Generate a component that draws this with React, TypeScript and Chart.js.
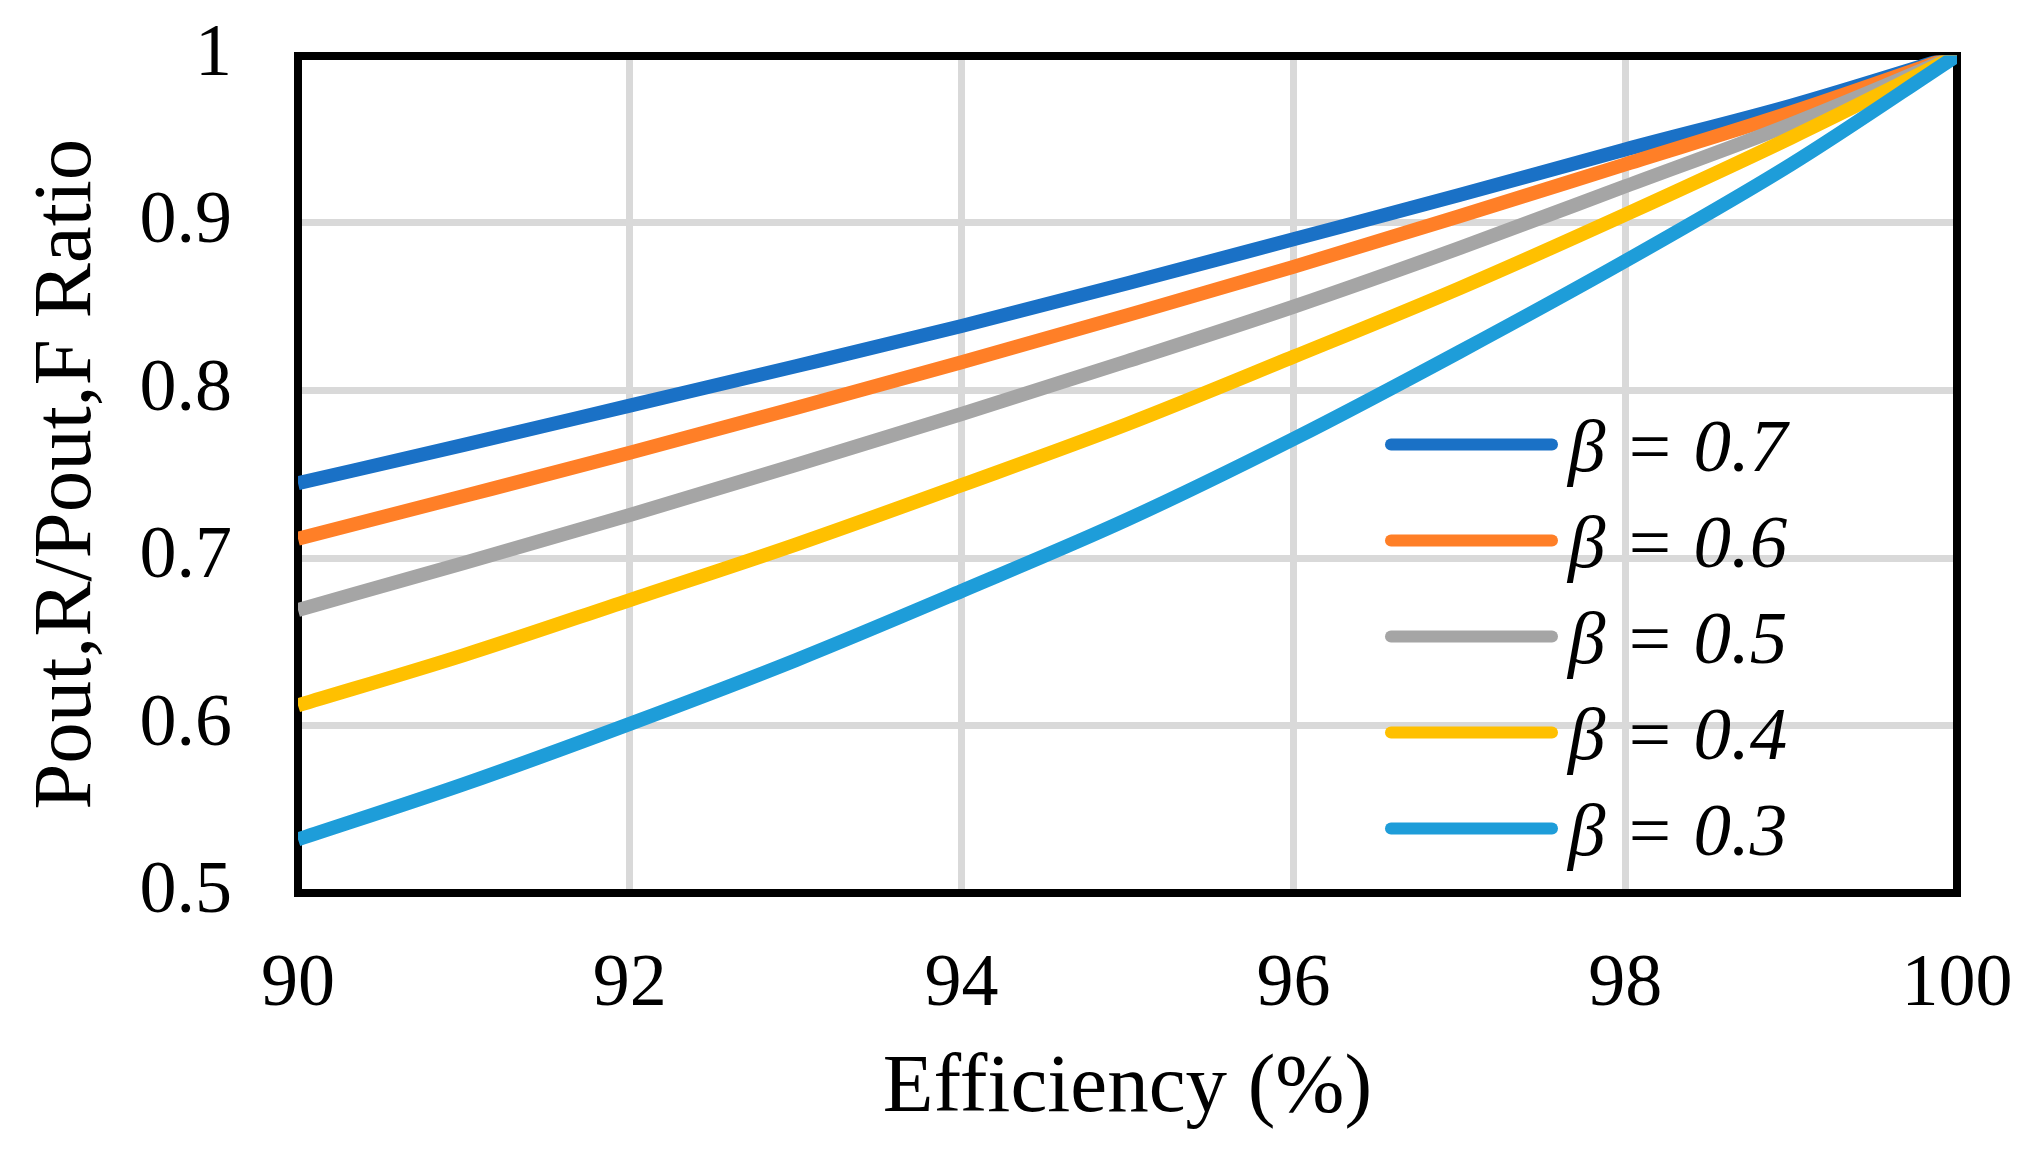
import React, { useEffect, useRef } from 'react';
import Chart from 'chart.js/auto';

// values
const efficiency = [90, 91, 92, 93, 94, 95, 96, 97, 98, 99, 100];
const beta07 = [0.7446, 0.7675, 0.791, 0.8145, 0.8385, 0.864, 0.8903, 0.9167, 0.9439, 0.97, 1.0];
const beta06 = [0.7115, 0.737, 0.7628, 0.7895, 0.8168, 0.845, 0.8738, 0.904, 0.935, 0.966, 1.0];
const beta05 = [0.669, 0.697, 0.7257, 0.7555, 0.786, 0.8175, 0.85, 0.885, 0.9219, 0.959, 1.0];
const beta04 = [0.612, 0.642, 0.6749, 0.708, 0.7435, 0.78, 0.8201, 0.861, 0.905, 0.951, 1.0];
const beta03 = [0.532, 0.565, 0.601, 0.639, 0.6803, 0.723, 0.771, 0.823, 0.8773, 0.935, 1.0];

const seriesLabels = ['β = 0.7', 'β = 0.6', 'β = 0.5', 'β = 0.4', 'β = 0.3'];
const seriesValues = [beta07, beta06, beta05, beta04, beta03];
const seriesColors = ['#1A71C6', '#FF7F27', '#A5A5A5', '#FFC000', '#1E9DD9'];

const xTicks = [90, 92, 94, 96, 98, 100];
const xTickLabels = ['90', '92', '94', '96', '98', '100'];
const yTicks = [0.5, 0.6, 0.7, 0.8, 0.9, 1];
const yTickLabels = ['0.5', '0.6', '0.7', '0.8', '0.9', '1'];

const serif = '"Liberation Serif", "Times New Roman", serif';

// legend drawn inside the plot area, right side
const insideLegend = {
    id: 'insideLegend',
    afterDatasetsDraw(chart: any) {
        const { ctx, chartArea } = chart;
        ctx.save();
        chart.data.datasets.forEach((ds: any, i: number) => {
            const y = chartArea.top + 389 + i * 96;
            const x0 = chartArea.right - 566;
            ctx.strokeStyle = ds.borderColor;
            ctx.lineWidth = 12;
            ctx.lineCap = 'round';
            ctx.beginPath();
            ctx.moveTo(x0, y);
            ctx.lineTo(x0 + 161, y);
            ctx.stroke();
            ctx.fillStyle = '#000';
            ctx.font = 'italic 75px ' + serif;
            ctx.textBaseline = 'alphabetic';
            ctx.textAlign = 'left';
            ctx.fillText(ds.label, chartArea.right - 389, y + 26);
        });
        ctx.restore();
    }
};

export default function App() {
    const canvasRef = useRef<HTMLCanvasElement>(null);

    useEffect(() => {
        document.body.style.margin = '0';
        let chart: Chart | undefined;
        const ctx = canvasRef.current?.getContext('2d');
        if (ctx) {
            chart = new Chart(ctx, {
                type: 'line',
                data: {
                    datasets: seriesValues.map((vals, i) => ({
                        label: seriesLabels[i],
                        data: vals.map((v, j) => ({ x: efficiency[j], y: v })),
                        borderColor: seriesColors[i],
                        backgroundColor: seriesColors[i],
                        borderWidth: 14,
                        pointRadius: 0,
                        cubicInterpolationMode: 'monotone',
                        fill: false,
                        order: seriesValues.length - 1 - i
                    }))
                },
                options: {
                    animation: false,
                    responsive: true,
                    maintainAspectRatio: false,
                    layout: { padding: 0 },
                    plugins: {
                        legend: { display: false },
                        tooltip: { enabled: false }
                    },
                    scales: {
                        x: {
                            type: 'linear',
                            position: 'bottom',
                            min: 90,
                            max: 100,
                            afterBuildTicks: (scale: any) => {
                                scale.ticks = xTicks.map(v => ({ value: v }));
                            },
                            afterFit: (scale: any) => {
                                scale.height = 260;
                                scale.paddingLeft = 0;
                                scale.paddingRight = 0;
                            },
                            ticks: {
                                callback: (_v: any, i: number) => xTickLabels[i],
                                font: { family: serif, size: 74 },
                                color: '#000',
                                padding: 48,
                                maxRotation: 0
                            },
                            grid: { color: '#D9D9D9', lineWidth: 7, drawTicks: false },
                            border: { display: true, color: '#000', width: 8 },
                            title: {
                                display: true,
                                text: 'Efficiency (%)',
                                color: '#000',
                                font: { family: serif, size: 83, lineHeight: 1 },
                                padding: { top: 0, bottom: 22 }
                            }
                        },
                        y: {
                            type: 'linear',
                            position: 'left',
                            min: 0.5,
                            max: 1,
                            afterBuildTicks: (scale: any) => {
                                scale.ticks = yTicks.map(v => ({ value: v }));
                            },
                            afterFit: (scale: any) => {
                                scale.width = 298;
                                scale.paddingTop = 0;
                                scale.paddingBottom = 0;
                            },
                            ticks: {
                                callback: (_v: any, i: number) => yTickLabels[i],
                                font: { family: serif, size: 74 },
                                color: '#000',
                                padding: 66
                            },
                            grid: { color: '#D9D9D9', lineWidth: 7, drawTicks: false },
                            border: { display: true, color: '#000', width: 8 },
                            title: {
                                display: true,
                                text: 'Pout,R/Pout,F Ratio',
                                color: '#000',
                                font: { family: serif, size: 83, lineHeight: 1 },
                                padding: { top: 26.5, bottom: 0 }
                            }
                        },
                        x2: {
                            type: 'linear',
                            position: 'top',
                            min: 90,
                            max: 100,
                            afterFit: (scale: any) => {
                                scale.height = 55.5;
                            },
                            ticks: { display: false },
                            grid: { display: false, drawTicks: false },
                            border: { display: true, color: '#000', width: 8 }
                        },
                        y2: {
                            type: 'linear',
                            position: 'right',
                            min: 0.5,
                            max: 1,
                            afterFit: (scale: any) => {
                                scale.width = 84;
                            },
                            ticks: { display: false },
                            grid: { display: false, drawTicks: false },
                            border: { display: true, color: '#000', width: 8 }
                        }
                    }
                },
                plugins: [insideLegend]
            });
        }
        return () => {
            if (chart) {
                chart.destroy();
            }
        };
    }, []);

    return (
        <div style={{ position: 'relative', width: '2041px', height: '1153px', background: '#fff' }}>
            <canvas ref={canvasRef}></canvas>
        </div>
    );
}
